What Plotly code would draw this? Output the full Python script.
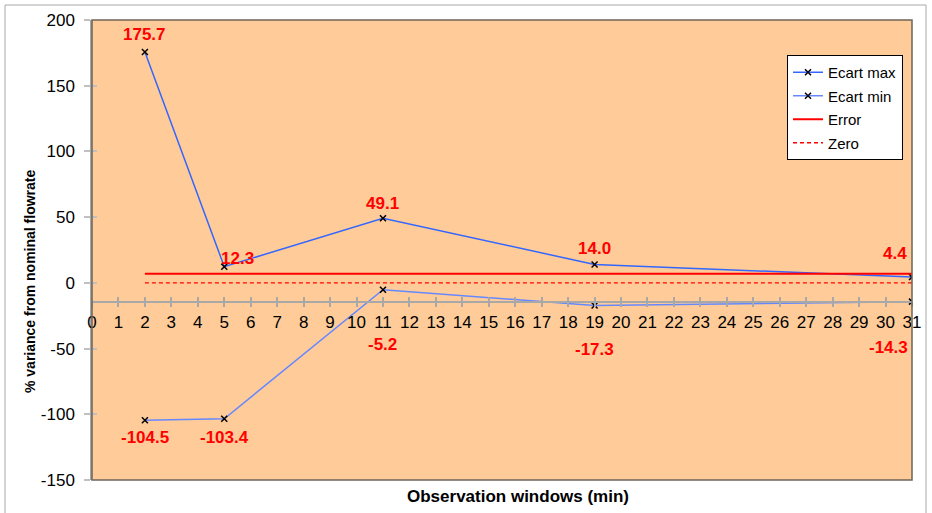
import plotly.graph_objects as go

# ---- data ----
windows = [2, 5, 11, 19, 31]
ecart_max = [175.7, 12.3, 49.1, 14.0, 4.4]
ecart_min = [-104.5, -103.4, -5.2, -17.3, -14.3]
error_level = 7.0
zero_level = 0.0
x_ticks = list(range(0, 32))
y_ticks = [-150, -100, -50, 0, 50, 100, 150, 200]
x_cross = -14.3

# label offsets (px) for data labels: (xshift, yshift)
max_label_shift = [(0, 17), (13, 8), (0, 15), (0, 16), (-17, 24)]
min_label_shift = [(0, -17), (0, -19), (0, -55), (0, -44), (-24, -46)]

FONT = "Arial, Liberation Sans, sans-serif"
Y_MIN, Y_MAX = -150, 200
X_MIN, X_MAX = 0, 31

fig = go.Figure()

fig.add_trace(go.Scatter(
    x=windows, y=ecart_max, name="Ecart max", mode="lines+markers",
    line=dict(color="#3366FF", width=1.5),
    marker=dict(symbol="x-thin", size=6, line=dict(color="black", width=1.5), color="black"),
    legendgroup="a",
))
fig.add_trace(go.Scatter(
    x=windows, y=ecart_min, name="Ecart min", mode="lines+markers",
    line=dict(color="#6688FF", width=1.5),
    marker=dict(symbol="x-thin", size=6, line=dict(color="black", width=1.5), color="black"),
    legendgroup="b",
))
fig.add_trace(go.Scatter(
    x=[windows[0], windows[-1]], y=[error_level, error_level], name="Error", mode="lines",
    line=dict(color="#FF0000", width=2), legendgroup="c",
))
fig.add_trace(go.Scatter(
    x=[windows[0], windows[-1]], y=[zero_level, zero_level], name="Zero", mode="lines",
    line=dict(color="#FF0000", width=1.3, dash="4px,3px"), legendgroup="d",
))
# invisible trace to carry the overlay axes (cross ticks)
fig.add_trace(go.Scatter(x=[None], y=[None], xaxis="x2", yaxis="y2", showlegend=False, hoverinfo="skip"))

# data labels
for xv, yv, (dx, dy) in zip(windows, ecart_max, max_label_shift):
    fig.add_annotation(x=xv, y=yv, text=f"{yv:.1f}", showarrow=False, xshift=dx, yshift=dy,
                       font=dict(family=FONT, size=17, color="#FF0000", weight="bold"))
for xv, yv, (dx, dy) in zip(windows, ecart_min, min_label_shift):
    fig.add_annotation(x=xv, y=yv, text=f"{yv:.1f}", showarrow=False, xshift=dx, yshift=dy,
                       font=dict(family=FONT, size=17, color="#FF0000", weight="bold"))

xpos = (x_cross - Y_MIN) / (Y_MAX - Y_MIN)

axis_common = dict(showgrid=False, zeroline=False)
fig.update_layout(
    width=932, height=513,
    margin=dict(l=92, r=20, t=20, b=33, autoexpand=False),
    paper_bgcolor="white", plot_bgcolor="#FFCC99",
    font=dict(family=FONT, size=16, color="black"),
    showlegend=True,
    xaxis=dict(range=[X_MIN, X_MAX], tickvals=x_ticks, ticktext=[str(v) for v in x_ticks],
               anchor="free", position=xpos, showline=True, linecolor="#A8A8A8", linewidth=1.5,
               ticks="outside", ticklen=5, tickcolor="#A8A8A8", tickwidth=1.5,
               tickfont=dict(family=FONT, size=17, color="black"), automargin=False, **axis_common),
    xaxis2=dict(range=[X_MIN, X_MAX], tickvals=x_ticks, overlaying="x", anchor="free", position=xpos,
                showline=False, ticks="inside", ticklen=5, tickcolor="#A8A8A8", tickwidth=1.5,
                showticklabels=False, automargin=False, **axis_common),
    yaxis=dict(range=[Y_MIN, Y_MAX], tickvals=y_ticks, ticktext=[str(v) for v in y_ticks],
               showline=True, linecolor="#A8A8A8", linewidth=1.5,
               ticks="outside", ticklen=6, tickcolor="#C0C0C0", tickwidth=1.5, ticklabelstandoff=6,
               tickfont=dict(family=FONT, size=17, color="black"), automargin=False, **axis_common),
    yaxis2=dict(range=[Y_MIN, Y_MAX], tickvals=y_ticks, overlaying="y", anchor="x",
                showline=False, ticks="inside", ticklen=5, tickcolor="#C0C0C0", tickwidth=1.5,
                showticklabels=False, automargin=False, **axis_common),
    legend=dict(x=(787 - 92) / 820, y=(480 - 55) / 460, xanchor="left", yanchor="top",
                bgcolor="white", bordercolor="black", borderwidth=1,
                font=dict(family=FONT, size=15, color="black"),
                traceorder="grouped", tracegroupgap=1, itemwidth=30),
)

# plot-area frame
fig.add_shape(type="rect", xref="x domain", yref="y domain", x0=0, x1=1, y0=0, y1=1,
              line=dict(color="#6E6458", width=1.5), layer="above")
# outer chart border
fig.add_shape(type="rect", xref="paper", yref="paper",
              x0=(5 - 92) / 820, x1=(926 - 92) / 820, y0=(480 - 520) / 460, y1=(480 - 5) / 460,
              line=dict(color="#A8A8A8", width=1))

# axis titles
fig.add_annotation(text="<b>Observation windows (min)</b>", xref="paper", yref="paper",
                   x=(518 - 92) / 820, y=(480 - 497) / 460, showarrow=False,
                   xanchor="center", yanchor="middle",
                   font=dict(family=FONT, size=17, color="black"))
fig.add_annotation(text="<b>% variance from nominal flowrate</b>", xref="paper", yref="paper",
                   x=(30 - 92) / 820, y=(480 - 282) / 460, showarrow=False, textangle=-90,
                   xanchor="center", yanchor="middle",
                   font=dict(family=FONT, size=14, color="black"))

fig.write_html("out.html", post_script="document.body.style.margin='0';",
               config={"displayModeBar": False})
